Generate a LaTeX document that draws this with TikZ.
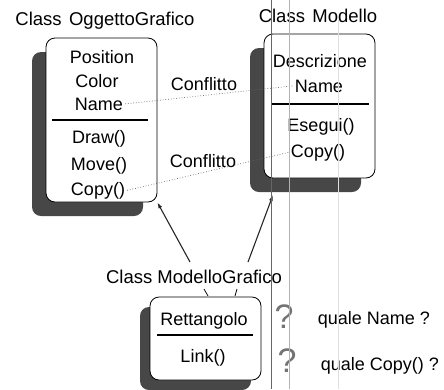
\documentclass[tikz,border=0pt]{standalone}
\usepackage{fontspec}
\setmainfont{Liberation Sans}
\usetikzlibrary{shadows,arrows.meta}
\begin{document}
\begin{tikzpicture}[x=1pt,y=-1pt,
  cls/.style={draw=black, line width=0.8pt, fill=white, rounded corners=9pt,
    minimum width=111pt, inner sep=0pt,
    drop shadow={shadow xshift=-#1, shadow yshift=-#1, fill=black!72, opacity=1}},
  cls/.default=14pt,
  txt/.style={font=\fontsize{18}{20}\selectfont, anchor=base, inner sep=2pt},
  ttl/.style={font=\fontsize{18.5}{20}\selectfont, anchor=base, inner sep=1pt},
  sep/.style={line width=1.3pt},
  conf/.style={dotted, black!60, line width=0.7pt},
  inh/.style={line width=1.1pt, black!85, -{Latex[length=6pt,width=4pt]}},
  qm/.style={font=\fontsize{34}{36}\selectfont, text=black!55, anchor=base, inner sep=0pt},
  scan/.style={line width=0.5pt},
]
\useasboundingbox (0,0) rectangle (444,389);

% class boxes
\node[cls, minimum height=164pt] (og) at (101.5,120) {};
\node[cls, minimum height=144pt] (mo) at (319.5,106) {};
\node[cls=10pt, minimum height=83pt] (mg) at (205.5,338.5) {};

% titles
\node[ttl] (og-t) at (105,25) {Class\hspace{0.4em}OggettoGrafico};
\node[ttl] (mo-t) at (318,22) {Class\hspace{0.4em}Modello};
\node[ttl] (mg-t) at (194,283) {Class ModelloGrafico};

% OggettoGrafico members
\node[txt] (og-pos)  at (102,63)  {Position};
\node[txt] (og-col)  at (97,87)   {Color};
\node[txt] (og-name) at (99,110)  {Name};
\draw[sep] (52,120) -- (148,120);
\node[txt] (og-draw) at (99,143)  {Draw()};
\node[txt] (og-move) at (99,170)  {Move()};
\node[txt] (og-copy) at (98,195)  {Copy()};

% Modello members
\node[txt] (mo-desc) at (320,67)  {Descrizione};
\node[txt] (mo-name) at (319,92)  {Name};
\draw[sep] (272,104) -- (369,104);
\node[txt] (mo-eseg) at (321,131) {Esegui()};
\node[txt] (mo-copy) at (318,157) {Copy()};

% ModelloGrafico members
\node[txt] (mg-rett) at (204,325) {Rettangolo};
\draw[sep] (157,335) -- (253,335);
\node[txt] (mg-link) at (203,362) {Link()};

% conflicts
\node[txt] (c1) at (204,90)  {Conflitto};
\node[txt] (c2) at (203,167) {Conflitto};
\draw[conf] (og-name.east) -- (mo-name.west);
\draw[conf] (og-copy.east) -- (mo-copy.west);

% inheritance arrows
\coordinate (a1) at (190,262);
\coordinate (a2s) at (248,262);
\coordinate (a2e) at (273,195);
\draw[inh] (a1) -- (og.south east);
\draw[inh] (a2s) -- (a2e);
\coordinate (t1a) at (204,289); \coordinate (t1b) at (208,296);
\coordinate (t2a) at (237,289); \coordinate (t2b) at (235,296);
\draw[line width=0.8pt] (t1a) -- (t1b);
\draw[line width=0.8pt] (t2a) -- (t2b);

% questions
\node[qm] (q1) at (284,328) {?};
\node[qm] (q2) at (287,372) {?};
\node[txt] (qn) at (374,324) {quale Name ?};
\node[txt] (qc) at (380,370) {quale Copy() ?};

% scan lines
\draw[scan, black!60] (271,0) -- (271,389);
\draw[scan, black!30] (289,0) -- (289,389);
\draw[scan, black!12] (338,20) -- (338,389);
\end{tikzpicture}
\end{document}
